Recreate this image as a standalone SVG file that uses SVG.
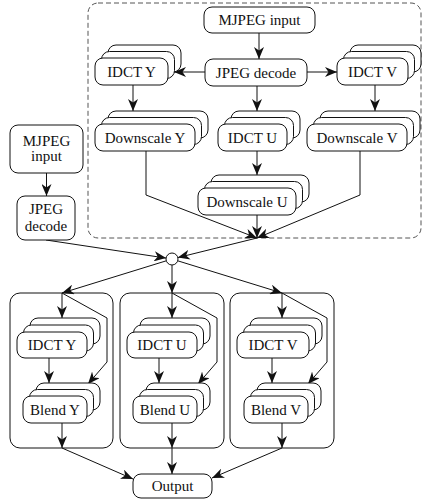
<svg xmlns="http://www.w3.org/2000/svg" width="424" height="501" viewBox="0 0 424 501">
<style>
.n{fill:#fff;stroke:#111;stroke-width:1}
.t{font-family:"Liberation Serif","Times New Roman",serif;font-size:15px;fill:#111;text-anchor:middle}
.c{fill:none;stroke:#111;stroke-width:1}
.g{fill:none;stroke:#111;stroke-width:1}
.d{fill:none;stroke:#555;stroke-width:1;stroke-dasharray:5 3}
</style>
<defs>
<marker id="ah" markerUnits="userSpaceOnUse" markerWidth="12" markerHeight="10" viewBox="0 0 12 10" refX="12" refY="5" orient="auto">
<path d="M0,0 L12,5 L0,10 L3.5,5 Z" fill="#111"/>
</marker>
</defs>
<rect class="d" x="88" y="3" width="333" height="235" rx="10"/>
<g id="groups">
<rect class="g" x="10" y="293" width="103" height="155" rx="10"/>
<rect class="g" x="120" y="293" width="104" height="155" rx="10"/>
<rect class="g" x="230" y="293" width="104" height="155" rx="10"/>
</g>
<g id="connectors">
<path class="c" d="M259,33 V59" marker-end="url(#ah)"/>
<path class="c" d="M205,72 H174" marker-end="url(#ah)"/>
<path class="c" d="M307,72 H337" marker-end="url(#ah)"/>
<path class="c" d="M133,85 V111" marker-end="url(#ah)"/>
<path class="c" d="M257,86 V111" marker-end="url(#ah)"/>
<path class="c" d="M375,85 V111" marker-end="url(#ah)"/>
<path class="c" d="M257,151 V175" marker-end="url(#ah)"/>
<path class="c" d="M146,151 V195 L257,238" marker-end="url(#ah)"/>
<path class="c" d="M360,151 V195 L257,238" marker-end="url(#ah)"/>
<path class="c" d="M257,215 V238" marker-end="url(#ah)"/>
<path class="c" d="M257,238 L177.8,257.6" marker-end="url(#ah)"/>
<path class="c" d="M46.5,173 V196" marker-end="url(#ah)"/>
<path class="c" d="M46,240 L166.1,258.1" marker-end="url(#ah)"/>
<path class="c" d="M166.3,260.8 L62,293" marker-end="url(#ah)"/>
<path class="c" d="M172,265 V293" marker-end="url(#ah)"/>
<path class="c" d="M177.7,260.8 L282,293" marker-end="url(#ah)"/>
<path class="c" d="M62,293 V318" marker-end="url(#ah)"/>
<path class="c" d="M62,293 L107,318 V362 L88,384" marker-end="url(#ah)"/>
<path class="c" d="M49,358 V383" marker-end="url(#ah)"/>
<path class="c" d="M62,423 V448" marker-end="url(#ah)"/>
<path class="c" d="M172,293 V318" marker-end="url(#ah)"/>
<path class="c" d="M172,293 L217,318 V362 L198,384" marker-end="url(#ah)"/>
<path class="c" d="M159,358 V383" marker-end="url(#ah)"/>
<path class="c" d="M172,423 V448" marker-end="url(#ah)"/>
<path class="c" d="M282,293 V318" marker-end="url(#ah)"/>
<path class="c" d="M282,293 L327,318 V362 L308,384" marker-end="url(#ah)"/>
<path class="c" d="M272,358 V383" marker-end="url(#ah)"/>
<path class="c" d="M282,423 V448" marker-end="url(#ah)"/>
<path class="c" d="M62,448 L133,479" marker-end="url(#ah)"/>
<path class="c" d="M172,448 V474" marker-end="url(#ah)"/>
<path class="c" d="M282,448 L212,478" marker-end="url(#ah)"/>
</g>
<g id="mjpeg-top"><rect class="n" x="204" y="7" width="111" height="26" rx="8"/><text class="t" x="259.5" y="25">MJPEG input</text></g>
<g id="jpeg-top"><rect class="n" x="205" y="59" width="102" height="27" rx="8"/><text class="t" x="256" y="78">JPEG decode</text></g>
<g id="idct-y-top"><rect class="n" x="108" y="45" width="73" height="27" rx="8"/><rect class="n" x="101.5" y="51.5" width="73" height="27" rx="8"/><rect class="n" x="95" y="58" width="73" height="27" rx="8"/><text class="t" x="131.5" y="77">IDCT Y</text></g>
<g id="idct-v-top"><rect class="n" x="350" y="45" width="71" height="27" rx="8"/><rect class="n" x="343.5" y="51.5" width="71" height="27" rx="8"/><rect class="n" x="337" y="58" width="71" height="27" rx="8"/><text class="t" x="372.5" y="77">IDCT V</text></g>
<g id="downscale-y"><rect class="n" x="108" y="111" width="100" height="27" rx="8"/><rect class="n" x="101.5" y="117.5" width="100" height="27" rx="8"/><rect class="n" x="95" y="124" width="100" height="27" rx="8"/><text class="t" x="145" y="143">Downscale Y</text></g>
<g id="idct-u-top"><rect class="n" x="231" y="111" width="69" height="27" rx="8"/><rect class="n" x="224.5" y="117.5" width="69" height="27" rx="8"/><rect class="n" x="218" y="124" width="69" height="27" rx="8"/><text class="t" x="252.5" y="143">IDCT U</text></g>
<g id="downscale-v"><rect class="n" x="320" y="111" width="100" height="27" rx="8"/><rect class="n" x="313.5" y="117.5" width="100" height="27" rx="8"/><rect class="n" x="307" y="124" width="100" height="27" rx="8"/><text class="t" x="357" y="143">Downscale V</text></g>
<g id="downscale-u"><rect class="n" x="211" y="175" width="98" height="27" rx="8"/><rect class="n" x="204.5" y="181.5" width="98" height="27" rx="8"/><rect class="n" x="198" y="188" width="98" height="27" rx="8"/><text class="t" x="247" y="207">Downscale U</text></g>
<g id="mjpeg-left"><rect class="n" x="10" y="125" width="73" height="48" rx="8"/><text class="t" x="46.5" y="146">MJPEG</text><text class="t" x="46.5" y="161">input</text></g>
<g id="jpeg-left"><rect class="n" x="17" y="196" width="58" height="44" rx="8"/><text class="t" x="46" y="214">JPEG</text><text class="t" x="46" y="231">decode</text></g>
<g id="join"><circle class="n" cx="172" cy="259" r="6"/></g>
<g id="idct-y"><rect class="n" x="30" y="318" width="70" height="26" rx="8"/><rect class="n" x="23.5" y="325" width="70" height="26" rx="8"/><rect class="n" x="17" y="332" width="70" height="26" rx="8"/><text class="t" x="52" y="350">IDCT Y</text></g>
<g id="blend-y"><rect class="n" x="36" y="383" width="64" height="27" rx="8"/><rect class="n" x="29.5" y="389.5" width="64" height="27" rx="8"/><rect class="n" x="23" y="396" width="64" height="27" rx="8"/><text class="t" x="55" y="415">Blend Y</text></g>
<g id="idct-u"><rect class="n" x="140" y="318" width="70" height="26" rx="8"/><rect class="n" x="133.5" y="325" width="70" height="26" rx="8"/><rect class="n" x="127" y="332" width="70" height="26" rx="8"/><text class="t" x="162" y="350">IDCT U</text></g>
<g id="blend-u"><rect class="n" x="146" y="383" width="64" height="27" rx="8"/><rect class="n" x="139.5" y="389.5" width="64" height="27" rx="8"/><rect class="n" x="133" y="396" width="64" height="27" rx="8"/><text class="t" x="165" y="415">Blend U</text></g>
<g id="idct-v"><rect class="n" x="250" y="318" width="72" height="26" rx="8"/><rect class="n" x="243.5" y="325" width="72" height="26" rx="8"/><rect class="n" x="237" y="332" width="72" height="26" rx="8"/><text class="t" x="273" y="350">IDCT V</text></g>
<g id="blend-v"><rect class="n" x="257" y="383" width="64" height="27" rx="8"/><rect class="n" x="250.5" y="389.5" width="64" height="27" rx="8"/><rect class="n" x="244" y="396" width="64" height="27" rx="8"/><text class="t" x="276" y="415">Blend V</text></g>
<g id="output"><rect class="n" x="133" y="474" width="79" height="24" rx="8"/><text class="t" x="172.5" y="491">Output</text></g>
</svg>
